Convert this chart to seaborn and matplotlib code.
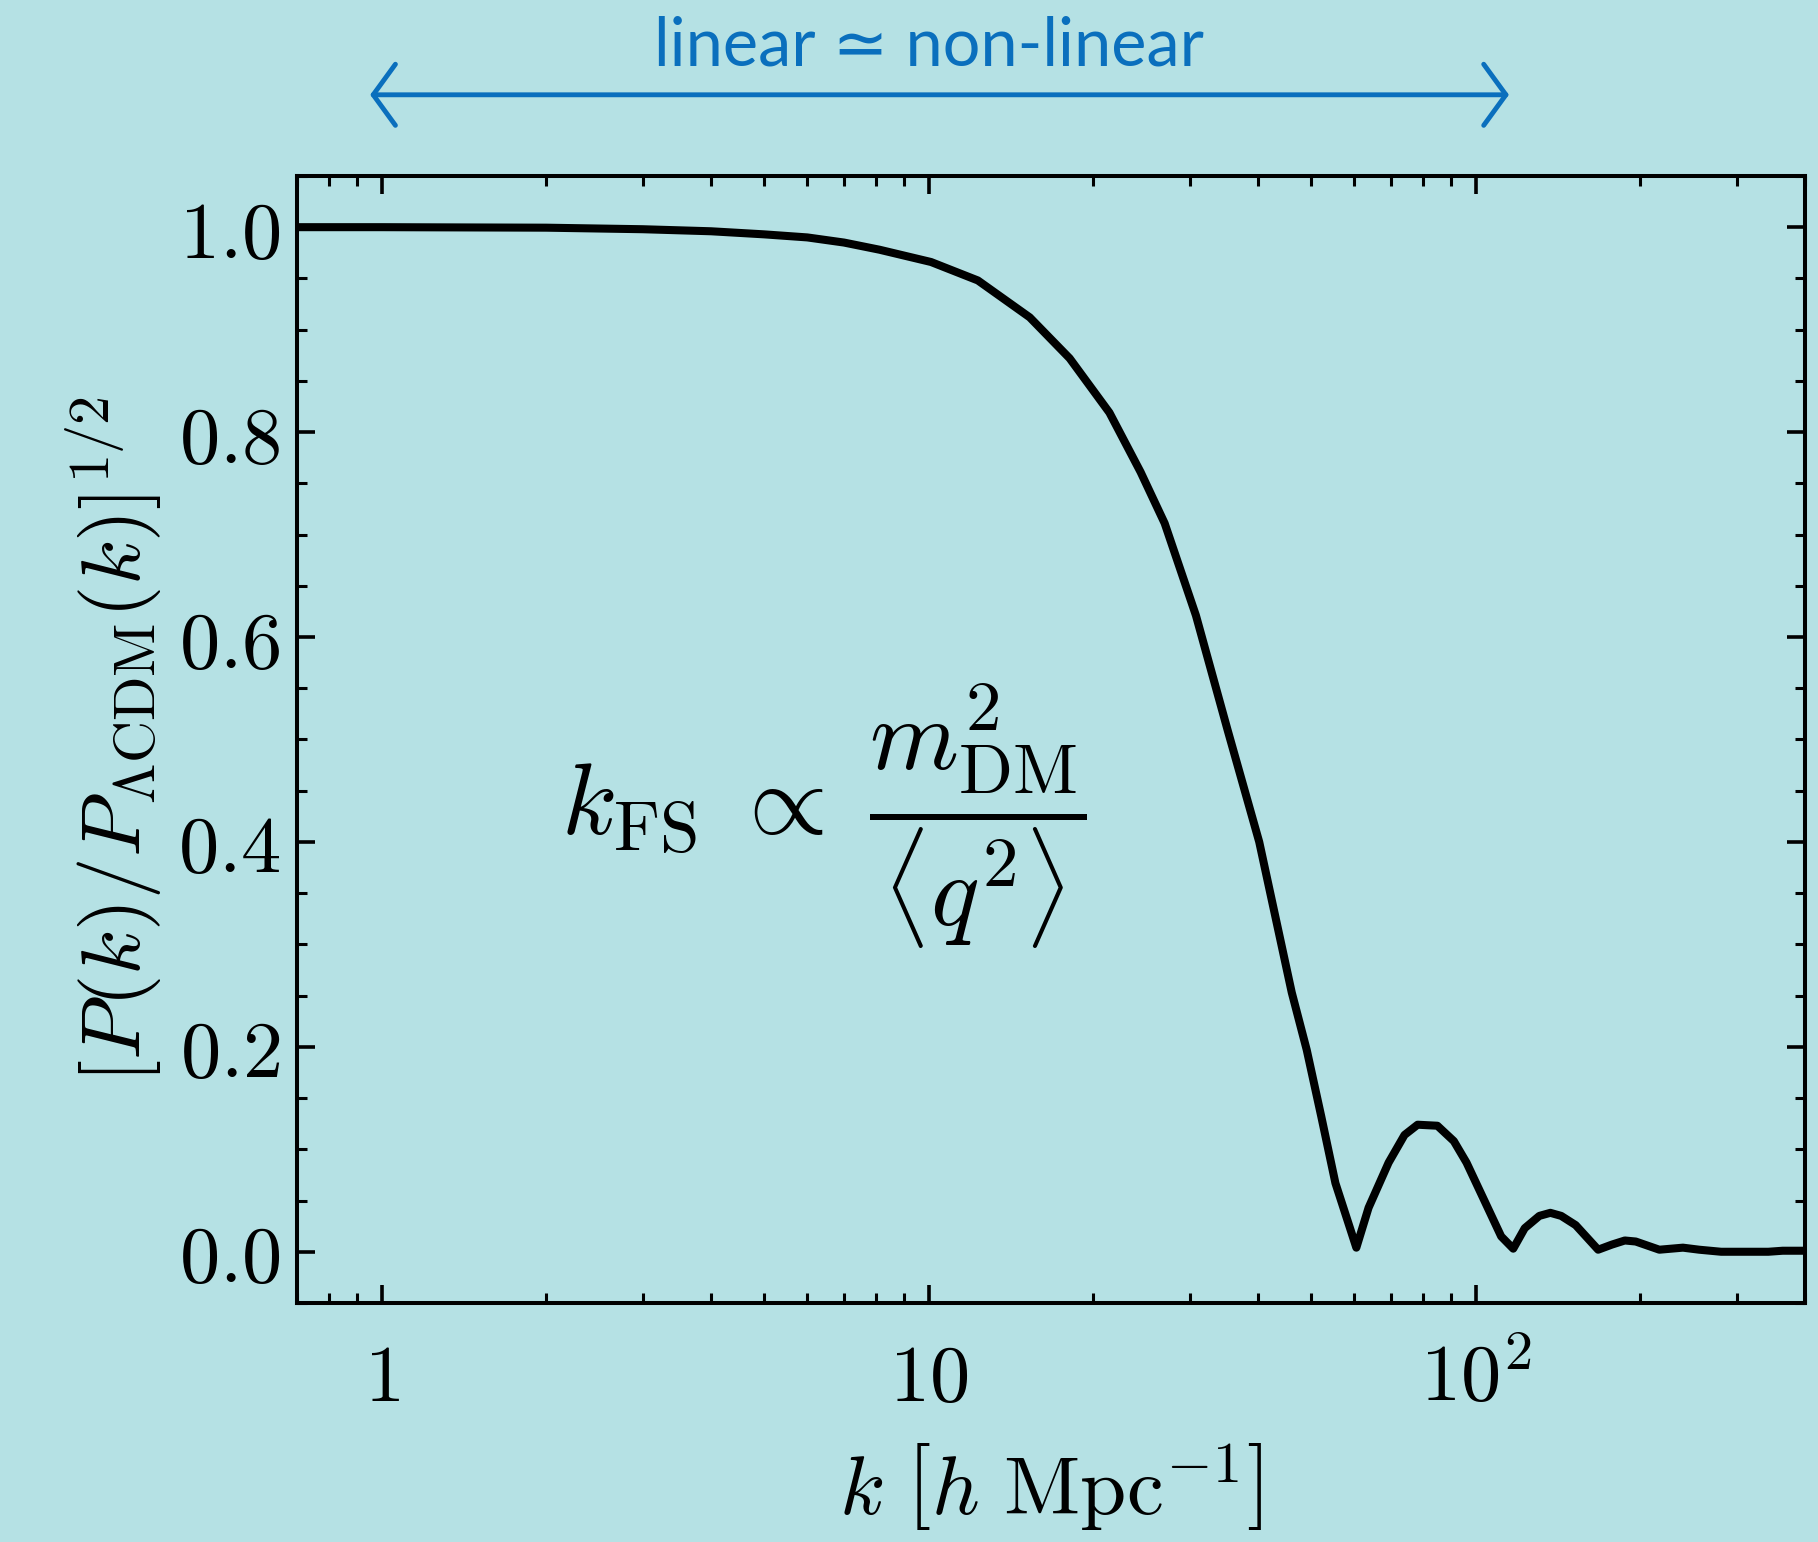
import numpy as np
import pandas as pd
import matplotlib
matplotlib.use("Agg")
import matplotlib.pyplot as plt
import seaborn as sns

# values
k_vals = [0.7, 1.0, 2.0, 3.0, 4.0, 5.0, 6.0, 7.0, 8.13, 10.1, 12.3, 15.3, 18.1, 21.4, 24.4,
          27.0, 30.8, 35.2, 40.2, 46.1, 49.1, 52.2, 55.4, 60.5, 63.7, 69.3, 74.1, 78.3,
          85.1, 91.2, 96.2, 103.9, 111.3, 117.1, 122.9, 130.7, 136.9, 143.3, 152.3, 167.4,
          177.4, 187.3, 196.1, 216.6, 239.2, 256.2, 280.9, 342.6, 364.0, 400.0]
ratio_vals = [1.0, 1.0, 0.9995, 0.998, 0.996, 0.993, 0.99, 0.985, 0.978, 0.966, 0.948, 0.912,
              0.872, 0.819, 0.761, 0.711, 0.621, 0.509, 0.40, 0.253, 0.197, 0.132, 0.067,
              0.004, 0.043, 0.087, 0.114, 0.124, 0.123, 0.108, 0.087, 0.049, 0.015, 0.003,
              0.023, 0.035, 0.038, 0.035, 0.026, 0.002, 0.007, 0.011, 0.010, 0.002, 0.004,
              0.002, 0.0, 0.0, 0.001, 0.001]

xtick_vals = [1, 10, 100]
xtick_labels = [r"$1$", r"$10$", r"$10^2$"]
ytick_vals = [0.0, 0.2, 0.4, 0.6, 0.8, 1.0]
ytick_labels = [r"$%.1f$" % v for v in ytick_vals]

bg = "#b5e1e4"
blue = "#0a6fbd"

sns.set_style("ticks")
plt.rcParams["mathtext.fontset"] = "cm"
plt.rcParams["font.family"] = ["DejaVu Serif"]

df = pd.DataFrame({"k": k_vals, "ratio": ratio_vals})

fig = plt.figure(figsize=(18.18, 15.42), dpi=100)
fig.patch.set_facecolor(bg)
ax = fig.add_axes([0.1633, 0.155, 0.8296, 0.7309])
ax.set_facecolor(bg)

sns.lineplot(data=df, x="k", y="ratio", ax=ax, color="black", lw=5.8, sort=False)

ax.set_xscale("log")
ax.set_xlim(0.7, 400)
ax.set_ylim(-0.05, 1.05)
ax.set_xticks(xtick_vals, labels=xtick_labels)
ax.set_yticks(ytick_vals, labels=ytick_labels)
ax.yaxis.set_minor_locator(matplotlib.ticker.MultipleLocator(0.05))
ax.xaxis.set_minor_locator(matplotlib.ticker.LogLocator(base=10, subs=np.arange(2, 10)))
ax.xaxis.set_minor_formatter(matplotlib.ticker.NullFormatter())

ax.tick_params(which="both", direction="in", top=True, right=True, labelsize=58, colors="black")
ax.tick_params(which="major", length=13, width=2.6)
ax.tick_params(which="minor", length=7.5, width=2.2)
ax.tick_params(axis="x", which="major", pad=27)
ax.tick_params(axis="y", which="major", pad=12)
for s in ax.spines.values():
    s.set_linewidth(2.9)
    s.set_color("black")

ax.set_xlabel(r"$k\ \left[h\ {\rm Mpc}^{-1}\right]$", fontsize=60, labelpad=16, color="black")
ax.set_ylabel(r"$[P(k)/P_{\Lambda{\rm CDM}}(k)]^{1/2}$", fontsize=60, labelpad=10, color="black")

ax.text(6.44, 0.425, r"$k_{\rm FS}\;\propto\;\dfrac{m^2_{\rm DM}}{\langle q^2\rangle}$",
        fontsize=73, ha="center", va="center", color="black")

# linear ~ non-linear arrow above the axes
ax.annotate("", xy=(115, 1.072), xytext=(0.953, 1.072),
            xycoords=("data", "axes fraction"), textcoords=("data", "axes fraction"),
            annotation_clip=False,
            arrowprops=dict(arrowstyle="<->, head_length=0.4, head_width=0.55",
                            color=blue, lw=3.5, mutation_scale=40, shrinkA=0, shrinkB=0))
ax.text(10.0, 1.115, "linear \u2243 non-linear", transform=ax.get_xaxis_transform(),
        ha="center", va="center", fontsize=48, color=blue,
        family=["Lato", "DejaVu Sans"])

fig.savefig("out.png", dpi=100, facecolor=bg)
